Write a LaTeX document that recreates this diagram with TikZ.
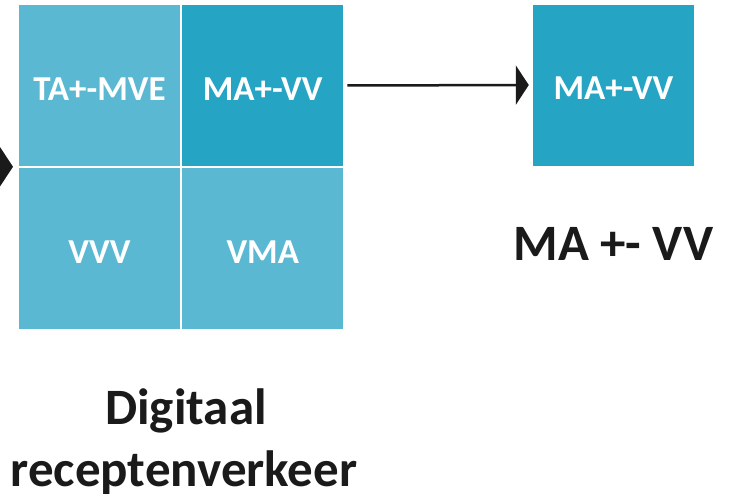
\documentclass[tikz,border=0pt]{standalone}
\usepackage{fontspec}
\setmainfont{Carlito}
\usetikzlibrary{arrows.meta}
\definecolor{celllight}{HTML}{5BB8D2}
\definecolor{celldark}{HTML}{25A4C4}
\definecolor{inkdark}{HTML}{1A1A1A}
\tikzset{
  cell/.style={minimum width=161pt, minimum height=161pt, inner sep=0pt,
    text=white, font=\bfseries\fontsize{35}{35}\selectfont,
    text height=29pt, text depth=0pt},
  light/.style={cell, fill=celllight},
  dark/.style={cell, fill=celldark},
  flow/.style={draw=inkdark, line width=2.5pt,
    -{Triangle[length=13pt, width=39pt]}},
  caption/.style={text=inkdark, font=\bfseries\fontsize{51}{51}\selectfont,
    anchor=base, inner sep=0pt}
}
\begin{document}
\begin{tikzpicture}[x=1pt, y=-1pt]
  \useasboundingbox (0,0) rectangle (729,498);
  % two-by-two grid of prescription flows
  \node[light] (ta) at (99.5,85.5) {TA+-MVE};
  \node[dark]  (ma) at (262.75,85.5) {MA+-VV};
  \node[light] (vvv) at (99.5,248.5) {VVV};
  \node[light] (vma) at (262.75,248.5) {VMA};
  % selected flow
  \node[dark] (sel) at (613.5,85) {MA+-VV};
  % incoming and outgoing arrows
  \coordinate (in) at (-40,166.75);
  \coordinate (gridw) at (19,166.75);
  \draw[flow, shorten >=6pt] (in) -- (gridw);
  \draw[flow, shorten <=4pt, shorten >=4pt] (ma.east) -- (sel.west);
  % captions
  \node[caption] (cap1) at (613.5,260) {MA +- VV};
  \node[caption] (cap2) at (186,424) {Digitaal};
  \node[caption] (cap3) at (184,486) {receptenverkeer};
\end{tikzpicture}
\end{document}
